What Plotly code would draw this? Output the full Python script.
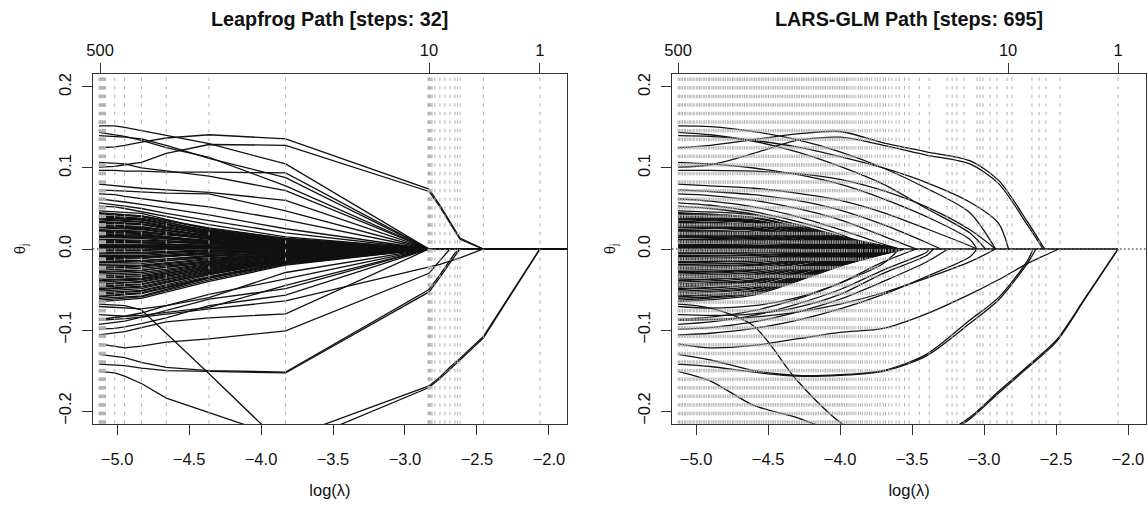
import plotly.graph_objects as go

# axes (log(lambda) on x, coefficient value on y)
X_RANGE = [-5.167, -1.875]
Y_RANGE = [-0.216, 0.216]
X_TICKS = [-5.0, -4.5, -4.0, -3.5, -3.0, -2.5, -2.0]
Y_TICKS = [-0.2, -0.1, 0.0, 0.1, 0.2]
Y_TICK_TEXT = ["−0.2", "−0.1", "0.0", "0.1", "0.2"]
TOP_TICK_TEXT = ["500", "10", "1"]
LF_TOP_TICKS = [-5.118, -2.833, -2.063]
LG_TOP_TICKS = [-5.125, -2.833, -2.069]

# leapfrog: the 32 recorded steps and the knots where the paths bend
LF_STEPS = [-5.125, -5.120, -5.115, -5.111, -5.106, -5.101, -5.097, -5.092, -5.087, -5.080,
            -5.016, -4.947, -4.831, -4.658, -4.361, -3.829,
            -2.840, -2.836, -2.833, -2.829, -2.826, -2.819, -2.812, -2.792, -2.757, -2.722,
            -2.688, -2.653, -2.636, -2.618, -2.456, -2.063]
LF_KNOTS = [-5.125, -5.016, -4.947, -4.831, -4.658, -4.361, -3.829, -2.833,
            -2.757, -2.688, -2.653, -2.618, -2.456, -2.063, -1.875]

# the clearly visible leapfrog paths (values at LF_KNOTS, zero afterwards)
LF_PATHS = [
    [0.152, 0.152, 0.150, 0.146, 0.140, 0.130, 0.105, 0],
    [0.144, 0.141, 0.139, 0.134, 0.125, 0.113, 0.078, 0],
    [0.140, 0.139, 0.138, 0.136, 0.128, 0.112, 0.088, 0],
    [0.125, 0.126, 0.128, 0.132, 0.137, 0.141, 0.136, 0.074, 0.054, 0.034, 0.024, 0.0135, 0],
    [0.101, 0.102, 0.104, 0.107, 0.118, 0.129, 0.128, 0.071, 0.052, 0.032, 0.022, 0.012, 0],
    [0.097, 0.097, 0.096, 0.096, 0.095, 0.095, 0.094, 0],
    [0.107, 0.106, 0.105, 0.100, 0.096, 0.090, 0.072, 0],
    [0.080, 0.078, 0.077, 0.075, 0.073, 0.070, 0.060, 0],
    [0.073, 0.072, 0.071, 0.070, 0.069, 0.068, 0.047, 0],
    [0.068, 0.067, 0.065, 0.062, 0.058, 0.052, 0.036, 0],
    [0.062, 0.060, 0.058, 0.055, 0.050, 0.042, 0.025, 0],
    [0.057, 0.055, 0.053, 0.050, 0.044, 0.035, 0.020, 0],
    [0.053, 0.052, 0.050, 0.046, 0.040, 0.030, 0.015, 0],
    [-0.151, -0.153, -0.157, -0.166, -0.184, -0.202, -0.234, -0.169, -0.158, -0.146, -0.140, -0.135, -0.108, 0],
    [-0.068, -0.069, -0.070, -0.075, -0.104, -0.154, -0.245, -0.171, -0.160, -0.148, -0.142, -0.137, -0.110, 0],
    [-0.130, -0.132, -0.134, -0.140, -0.146, -0.150, -0.152, -0.050, -0.032, -0.014, -0.005, 0],
    [-0.142, -0.143, -0.144, -0.147, -0.150, -0.151, -0.153, -0.053, -0.035, -0.017, -0.008, 0],
    [-0.117, -0.120, -0.122, -0.120, -0.115, -0.111, -0.101, -0.030, -0.015, 0],
    [-0.088, -0.087, -0.086, -0.084, -0.080, -0.074, -0.064, -0.023, -0.019, -0.015, -0.013, -0.011, 0],
    [-0.106, -0.104, -0.102, -0.097, -0.090, -0.085, -0.080, 0],
    [-0.099, -0.098, -0.096, -0.092, -0.085, -0.070, -0.057, 0],
    [-0.093, -0.091, -0.089, -0.084, -0.076, -0.062, -0.049, 0],
    [-0.087, -0.085, -0.083, -0.079, -0.070, -0.056, -0.037, 0],
    [-0.081, -0.082, -0.083, -0.082, -0.078, -0.072, -0.045, 0],
    [-0.071, -0.072, -0.073, -0.074, -0.070, -0.060, -0.029, 0],
]

# LARS-GLM: step positions (dense on the left, 695 steps in the original)
LG_STEPS = [
    -5.125, -5.116, -5.104, -5.094, -5.081, -5.072, -5.058, -5.047, -5.036, -5.022,
    -5.013, -4.999, -4.988, -4.975, -4.965, -4.951, -4.940, -4.929, -4.915, -4.905,
    -4.891, -4.880, -4.868, -4.856, -4.843, -4.833, -4.820, -4.808, -4.797, -4.783,
    -4.772, -4.760, -4.747, -4.737, -4.723, -4.712, -4.700, -4.689, -4.676, -4.664,
    -4.652, -4.641, -4.627, -4.617, -4.604, -4.593, -4.580, -4.568, -4.557, -4.544,
    -4.533, -4.520, -4.509, -4.497, -4.485, -4.472, -4.461, -4.449, -4.436, -4.425,
    -4.412, -4.401, -4.389, -4.377, -4.364, -4.353, -4.340, -4.329, -4.317, -4.304,
    -4.293, -4.281, -4.268, -4.257, -4.245, -4.232, -4.221, -4.209, -4.196, -4.185,
    -4.172, -4.161, -4.149, -4.136, -4.125, -4.112, -4.101, -4.089, -4.076, -4.065,
    -4.052, -4.041, -4.029, -4.016, -4.005, -3.992, -3.981, -3.969, -3.956, -3.945,
    -3.931, -3.917, -3.904, -3.890, -3.872, -3.858, -3.845, -3.826, -3.812, -3.795,
    -3.780, -3.757, -3.741, -3.722, -3.700, -3.684, -3.661, -3.640, -3.611, -3.590,
    -3.552, -3.521, -3.450, -3.381, -3.257, -3.222, -3.188, -3.139, -3.049, -3.028,
    -3.007, -2.958, -2.910, -2.840, -2.806, -2.667, -2.618, -2.570, -2.472, -2.069,
]
LG_KNOTS = [-5.125, -4.9, -4.6, -4.3, -4.0, -3.7, -3.4, -3.1, -2.9, -2.7, -2.5, -2.3]

# clearly visible LARS-GLM paths (values at LG_KNOTS) and where each one reaches zero
LG_PATHS = [
    [0.152, 0.151, 0.145, 0.135, 0.120, 0.100, 0.075, 0.045],
    [0.144, 0.141, 0.133, 0.120, 0.102, 0.080, 0.050, 0.020],
    [0.140, 0.139, 0.134, 0.126, 0.114, 0.100, 0.082, 0.058, 0.032],
    [0.125, 0.128, 0.135, 0.142, 0.145, 0.131, 0.120, 0.109, 0.085, 0.034],
    [0.101, 0.104, 0.118, 0.134, 0.138, 0.128, 0.116, 0.105, 0.081, 0.030],
    [0.097, 0.097, 0.096, 0.093, 0.086, 0.072, 0.052, 0.024],
    [0.107, 0.105, 0.100, 0.092, 0.080, 0.062, 0.040, 0.012],
    [0.080, 0.078, 0.075, 0.069, 0.060, 0.045, 0.025, 0.004],
    [0.073, 0.071, 0.067, 0.060, 0.048, 0.030, 0.008],
    [0.068, 0.066, 0.060, 0.050, 0.036, 0.016],
    [0.062, 0.059, 0.052, 0.040, 0.024, 0.006],
    [0.057, 0.054, 0.046, 0.034, 0.018],
    [0.053, 0.050, 0.043, 0.030, 0.014],
    [-0.151, -0.163, -0.193, -0.208, -0.228, -0.245, -0.238, -0.208, -0.176, -0.145, -0.113, -0.061],
    [-0.068, -0.073, -0.095, -0.162, -0.214, -0.245, -0.240, -0.210, -0.178, -0.147, -0.115, -0.062],
    [-0.130, -0.137, -0.150, -0.156, -0.155, -0.150, -0.130, -0.088, -0.060, -0.015],
    [-0.142, -0.145, -0.152, -0.157, -0.156, -0.151, -0.132, -0.092, -0.063, -0.018],
    [-0.117, -0.122, -0.119, -0.111, -0.103, -0.098, -0.080, -0.056, -0.038, -0.018],
    [-0.088, -0.087, -0.084, -0.078, -0.068, -0.054, -0.036, -0.016],
    [-0.106, -0.104, -0.098, -0.088, -0.074, -0.056, -0.034, -0.010],
    [-0.099, -0.097, -0.090, -0.078, -0.062, -0.040, -0.016],
    [-0.093, -0.090, -0.082, -0.068, -0.050, -0.026, -0.004],
    [-0.087, -0.084, -0.076, -0.062, -0.042, -0.016],
    [-0.081, -0.082, -0.080, -0.072, -0.056, -0.030, -0.008],
    [-0.071, -0.073, -0.070, -0.060, -0.042, -0.018],
]
LG_PATH_ZERO = [-2.92, -2.99, -2.83, -2.58, -2.59, -2.92, -3.05, -3.05, -3.30, -3.47, -3.59, -3.75, -3.80,
                -2.069, -2.069, -2.66, -2.64, -2.48, -2.92, -3.05, -3.25, -3.38, -3.47, -3.35, -3.59]

# the dense bundle of small coefficients (start value shared by both fits)
BLOB_START = [
    0.047, 0.012, -0.031, 0.038, -0.006, -0.052, 0.021, 0.003, -0.044, 0.030,
    -0.015, 0.043, -0.061, 0.008, -0.024, 0.034, -0.009, -0.038, 0.017, -0.002,
    0.040, -0.056, 0.026, -0.019, 0.006, -0.047, 0.014, -0.028, 0.036, -0.012,
    -0.065, 0.023, -0.004, 0.045, -0.035, 0.010, -0.021, 0.032, -0.050, 0.001,
    0.019, -0.041, 0.028, -0.008, -0.058, 0.041, -0.026, 0.005, -0.033, 0.015,
    -0.013, 0.037, -0.054, 0.024, -0.017, 0.009, -0.046, 0.033, -0.001, -0.029,
    0.044, -0.063, 0.018, -0.036, 0.004, -0.023, 0.027, -0.049, 0.011, -0.011,
    0.039, -0.043, 0.002, -0.059, 0.029, -0.016, 0.016, -0.039, 0.022, -0.005,
]
# leapfrog values at log(lambda) = -4.831, -4.361, -3.829 (zero from -2.833 on)
LF_BLOB_A = [
    0.044, 0.011, -0.029, 0.036, -0.006, -0.049, 0.019, 0.003, -0.041, 0.028,
    -0.014, 0.040, -0.058, 0.008, -0.022, 0.031, -0.009, -0.036, 0.016, -0.002,
    0.037, -0.052, 0.024, -0.018, 0.006, -0.044, 0.013, -0.026, 0.033, -0.011,
    -0.061, 0.021, -0.004, 0.041, -0.033, 0.009, -0.020, 0.030, -0.047, 0.001,
    0.018, -0.038, 0.026, -0.008, -0.054, 0.038, -0.024, 0.005, -0.031, 0.014,
    -0.012, 0.034, -0.051, 0.022, -0.016, 0.008, -0.043, 0.031, -0.001, -0.027,
    0.041, -0.059, 0.017, -0.034, 0.004, -0.021, 0.025, -0.046, 0.010, -0.010,
    0.036, -0.040, 0.002, -0.055, 0.027, -0.015, 0.015, -0.037, 0.020, -0.005,
]
LF_BLOB_B = [
    0.024, 0.008, -0.018, 0.021, -0.002, -0.030, 0.010, 0.004, -0.026, 0.015,
    -0.009, 0.022, -0.036, 0.003, -0.015, 0.019, -0.007, -0.021, 0.011, 0.001,
    0.020, -0.034, 0.013, -0.009, 0.005, -0.028, 0.006, -0.017, 0.018, -0.005,
    -0.040, 0.014, -0.001, 0.025, -0.020, 0.007, -0.012, 0.016, -0.031, 0.000,
    0.009, -0.025, 0.017, -0.003, -0.035, 0.023, -0.016, 0.002, -0.019, 0.010,
    -0.006, 0.020, -0.032, 0.012, -0.011, 0.003, -0.027, 0.018, 0.001, -0.014,
    0.026, -0.038, 0.009, -0.022, 0.003, -0.013, 0.014, -0.029, 0.006, -0.004,
    0.022, -0.024, 0.002, -0.036, 0.016, -0.008, 0.008, -0.023, 0.013, -0.002,
]
LF_BLOB_C = [
    0.012, 0.004, -0.008, 0.010, -0.001, -0.014, 0.005, 0.001, -0.012, 0.007,
    -0.004, 0.011, -0.018, 0.002, -0.007, 0.009, -0.002, -0.010, 0.005, 0.000,
    0.010, -0.016, 0.006, -0.005, 0.002, -0.013, 0.003, -0.008, 0.009, -0.003,
    -0.020, 0.007, -0.001, 0.013, -0.009, 0.003, -0.006, 0.008, -0.015, 0.000,
    0.004, -0.012, 0.008, -0.002, -0.017, 0.011, -0.007, 0.001, -0.009, 0.005,
    -0.003, 0.010, -0.015, 0.006, -0.005, 0.002, -0.013, 0.009, 0.000, -0.007,
    0.013, -0.019, 0.004, -0.011, 0.001, -0.006, 0.007, -0.014, 0.003, -0.002,
    0.011, -0.011, 0.001, -0.017, 0.008, -0.004, 0.004, -0.011, 0.006, -0.001,
]
# LARS-GLM values at log(lambda) = -4.6, -4.3, -4.0 and the point where each hits zero
LG_BLOB_A = [
    0.042, 0.011, -0.027, 0.034, -0.005, -0.046, 0.018, 0.003, -0.039, 0.026,
    -0.013, 0.038, -0.054, 0.007, -0.021, 0.030, -0.008, -0.034, 0.015, -0.002,
    0.035, -0.049, 0.023, -0.017, 0.005, -0.041, 0.012, -0.025, 0.032, -0.011,
    -0.057, 0.020, -0.004, 0.039, -0.031, 0.009, -0.019, 0.028, -0.044, 0.001,
    0.017, -0.036, 0.025, -0.007, -0.051, 0.036, -0.023, 0.004, -0.029, 0.013,
    -0.011, 0.033, -0.048, 0.021, -0.015, 0.008, -0.040, 0.029, -0.001, -0.026,
    0.039, -0.055, 0.016, -0.032, 0.004, -0.020, 0.024, -0.043, 0.010, -0.010,
    0.034, -0.038, 0.002, -0.052, 0.026, -0.014, 0.014, -0.034, 0.019, -0.004,
]
LG_BLOB_B = [
    0.030, 0.007, -0.019, 0.024, -0.004, -0.033, 0.013, 0.002, -0.027, 0.018,
    -0.009, 0.027, -0.038, 0.005, -0.015, 0.021, -0.006, -0.024, 0.011, -0.001,
    0.025, -0.035, 0.016, -0.012, 0.004, -0.029, 0.009, -0.017, 0.022, -0.007,
    -0.040, 0.014, -0.003, 0.028, -0.022, 0.006, -0.013, 0.020, -0.031, 0.001,
    0.012, -0.025, 0.017, -0.005, -0.036, 0.025, -0.016, 0.003, -0.021, 0.009,
    -0.008, 0.023, -0.034, 0.015, -0.011, 0.006, -0.029, 0.020, -0.001, -0.018,
    0.027, -0.039, 0.011, -0.022, 0.002, -0.014, 0.017, -0.030, 0.007, -0.007,
    0.024, -0.027, 0.001, -0.037, 0.018, -0.010, 0.010, -0.024, 0.014, -0.003,
]
LG_BLOB_C = [
    0.016, 0.004, -0.010, 0.013, -0.002, -0.017, 0.007, 0.001, -0.014, 0.010,
    -0.005, 0.014, -0.020, 0.003, -0.008, 0.011, -0.003, -0.012, 0.006, -0.001,
    0.013, -0.018, 0.009, -0.006, 0.002, -0.015, 0.005, -0.009, 0.012, -0.004,
    -0.021, 0.008, -0.001, 0.015, -0.011, 0.003, -0.007, 0.011, -0.016, 0.000,
    0.006, -0.013, 0.009, -0.003, -0.019, 0.013, -0.008, 0.002, -0.011, 0.005,
    -0.004, 0.012, -0.018, 0.008, -0.006, 0.003, -0.015, 0.011, 0.000, -0.009,
    0.014, -0.021, 0.006, -0.012, 0.001, -0.007, 0.009, -0.016, 0.004, -0.004,
    0.013, -0.014, 0.001, -0.019, 0.010, -0.005, 0.005, -0.013, 0.007, -0.002,
]
LG_BLOB_ZERO = [
    -3.60, -3.85, -3.62, -3.59, -3.90, -3.58, -3.70, -3.92, -3.61, -3.66,
    -3.80, -3.60, -3.55, -3.88, -3.72, -3.62, -3.86, -3.64, -3.75, -3.93,
    -3.61, -3.59, -3.68, -3.78, -3.90, -3.60, -3.82, -3.70, -3.63, -3.84,
    -3.56, -3.69, -3.94, -3.60, -3.65, -3.87, -3.76, -3.62, -3.59, -3.95,
    -3.74, -3.63, -3.66, -3.89, -3.58, -3.61, -3.71, -3.91, -3.64, -3.79,
    -3.83, -3.62, -3.60, -3.73, -3.80, -3.89, -3.61, -3.65, -3.94, -3.68,
    -3.59, -3.57, -3.77, -3.63, -3.92, -3.74, -3.67, -3.60, -3.85, -3.81,
    -3.61, -3.64, -3.93, -3.58, -3.66, -3.79, -3.76, -3.62, -3.71, -3.88,
]

FONT = "Liberation Sans, Arial, Helvetica, sans-serif"
LINE = "#111111"
FRAME = "#333333"
STEP = "#b0b0b0"


def stack(segments):
    """Join (x, y) segments into one trace, separated by gaps."""
    xs, ys = [], []
    for sx, sy in segments:
        xs += list(sx) + [None]
        ys += list(sy) + [None]
    return xs, ys


def step_lines(steps):
    xs, ys = [], []
    for s in steps:
        xs += [s, s, None]
        ys += [Y_RANGE[1], Y_RANGE[0], None]
    return xs, ys


# leapfrog paths: straight segments between recorded steps
lf_segs = []
for vals in LF_PATHS:
    lf_segs.append((LF_KNOTS, vals + [0.0] * (len(LF_KNOTS) - len(vals))))
lf_blob_x = [LF_KNOTS[i] for i in (0, 3, 5, 6, 7, len(LF_KNOTS) - 1)]
for s, a, b, c in zip(BLOB_START, LF_BLOB_A, LF_BLOB_B, LF_BLOB_C):
    lf_segs.append((lf_blob_x, [s, a, b, c, 0.0, 0.0]))
lf_x, lf_y = stack(lf_segs)

# LARS-GLM paths: smooth curves ending where the coefficient drops out
lg_segs = []
for vals, z in zip(LG_PATHS, LG_PATH_ZERO):
    lg_segs.append((LG_KNOTS[:len(vals)] + [z], vals + [0.0]))
lg_blob_x = [LG_KNOTS[0], LG_KNOTS[2], LG_KNOTS[3], LG_KNOTS[4]]
for s, a, b, c, z in zip(BLOB_START, LG_BLOB_A, LG_BLOB_B, LG_BLOB_C, LG_BLOB_ZERO):
    lg_segs.append((lg_blob_x + [z], [s, a, b, c, 0.0]))
lg_x, lg_y = stack(lg_segs)

fig = go.Figure()

for xa, ya in (("x", "y"), ("x2", "y2")):
    fig.add_trace(go.Scatter(x=X_RANGE, y=[0, 0], xaxis=xa, yaxis=ya, mode="lines",
                             line=dict(color=LINE, width=1, dash="1.5px,2.5px"), hoverinfo="skip"))

fig.add_trace(go.Scatter(x=lf_x, y=lf_y, xaxis="x", yaxis="y", mode="lines",
                         line=dict(color=LINE, width=1.3), hoverinfo="skip"))
fig.add_trace(go.Scatter(x=lg_x, y=lg_y, xaxis="x2", yaxis="y2", mode="lines",
                         line=dict(color=LINE, width=1.3, shape="spline", smoothing=0.8),
                         hoverinfo="skip"))
fig.add_trace(go.Scatter(x=[min(LG_BLOB_ZERO), LG_STEPS[-1]], y=[0, 0], xaxis="x2", yaxis="y2",
                         mode="lines", line=dict(color=LINE, width=1.3), hoverinfo="skip"))

# step markers drawn on top, grey dashes
for steps, xa, ya in ((LF_STEPS, "x", "y"), (LG_STEPS, "x2", "y2")):
    sx, sy = step_lines(steps)
    fig.add_trace(go.Scatter(x=sx, y=sy, xaxis=xa, yaxis=ya, mode="lines",
                             line=dict(color=STEP, width=1, dash="0px,3.5px,3.5px,1.57px"),
                             hoverinfo="skip"))

# invisible anchors for the top (model size) axes
for ticks, xa, ya in ((LF_TOP_TICKS, "x3", "y"), (LG_TOP_TICKS, "x4", "y2")):
    fig.add_trace(go.Scatter(x=ticks, y=[0] * len(ticks), xaxis=xa, yaxis=ya, mode="markers",
                             marker=dict(opacity=0), hoverinfo="skip"))

axis = dict(showline=True, linecolor=FRAME, linewidth=1, mirror=True, ticks="outside",
            ticklen=10, tickcolor=FRAME, showgrid=False, zeroline=False,
            tickfont=dict(size=16.5, color="#111"))
xbottom = dict(axis, range=X_RANGE, tickvals=X_TICKS, tickformat=".1f", ticklabelstandoff=10,
               title=dict(text="log(λ)", standoff=17, font=dict(size=16.5)))
yleft = dict(axis, range=Y_RANGE, tickvals=Y_TICKS, ticktext=Y_TICK_TEXT, tickangle=-90,
             ticklabelstandoff=4)
ytitle = "θ<sub>j</sub>"
xtop = dict(range=X_RANGE, side="top", ticks="outside", ticklen=10, tickcolor=FRAME,
            showline=False, showgrid=False, zeroline=False, tickfont=dict(size=16.5, color="#111"),
            ticktext=TOP_TICK_TEXT)

fig.update_layout(
    width=1148, height=506,
    margin=dict(l=93, r=2, t=74, b=82),
    plot_bgcolor="white", paper_bgcolor="white",
    showlegend=False,
    font=dict(family=FONT, color="#111", size=16.5),
    xaxis=dict(xbottom, domain=[0, 0.4501], anchor="y"),
    xaxis2=dict(xbottom, domain=[0.5499, 1], anchor="y2"),
    xaxis3=dict(xtop, overlaying="x", anchor="y", tickvals=LF_TOP_TICKS),
    xaxis4=dict(xtop, overlaying="x2", anchor="y2", tickvals=LG_TOP_TICKS),
    yaxis=dict(yleft, anchor="x", domain=[0, 1],
               title=dict(text=ytitle, standoff=27, font=dict(size=15))),
    yaxis2=dict(yleft, anchor="x2", domain=[0, 1],
                title=dict(text=ytitle, standoff=16, font=dict(size=15))),
    annotations=[
        dict(text="<b>Leapfrog Path [steps: 32]</b>", x=0.225, y=1.158, xref="paper", yref="paper",
             showarrow=False, font=dict(size=19.8), xanchor="center", yanchor="middle"),
        dict(text="<b>LARS-GLM Path [steps: 695]</b>", x=0.775, y=1.158, xref="paper", yref="paper",
             showarrow=False, font=dict(size=19.8), xanchor="center", yanchor="middle"),
    ],
)

# the page's default body margin would shift the figure by 8px
fig.write_html("out.html", config={"displayModeBar": False},
               post_script="document.body.style.margin = '0px';")
